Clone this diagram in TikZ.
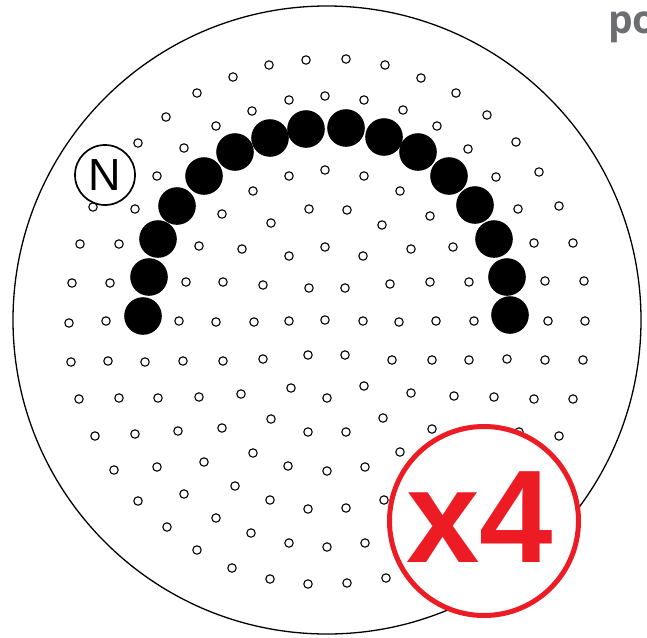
\documentclass[tikz,border=0pt]{standalone}
\usepackage{fontspec}
\setmainfont{Liberation Sans}
\newfontfamily\pofont{Open Sans}
\definecolor{xred}{HTML}{ED1C24}
\definecolor{pogray}{HTML}{6D6E71}
\tikzset{
  plate/.style={draw=black, line width=1.3pt},
  hole/.style={draw=black, line width=1.1pt, fill=white},
  bead/.style={fill=black},
  nbadge/.style={circle, draw=black, line width=1.7pt, fill=white, minimum size=60pt, inner sep=0pt, font=\fontsize{45}{45}\selectfont},
  xbadge/.style={draw=xred, line width=5pt, fill=white},
  xtext/.style={text=xred, font=\fontsize{132}{132}\selectfont\bfseries, inner sep=0pt, anchor=base},
  potext/.style={text=pogray, font=\pofont\fontsize{39}{39}\selectfont\bfseries, inner sep=0pt, anchor=base west}
}
\begin{document}
\begin{tikzpicture}[x=1pt,y=-1pt]
\useasboundingbox (0,0) rectangle (647,637);
% plate
\draw[plate] (327,320) circle[radius=314];
% small holes
\foreach \p in {
 (306,60),(346,59),(269,65),(385,65),(233,77),(421,78),(197,93),(456,93),(166,117),(487,115),(138,143),(516,142),
 (539,172),(559,206),(573,243),(584,281),(585,321),(93,207),(80,244),(72,283),(69,323),
 (325,96),(289,100),(364,100),(252,111),(403,110),(216,126),(437,126),(184,148),(468,149),(157,176),(496,177),
 (135,209),(518,209),(119,244),(534,243),(110,283),(545,281),(106,321),(548,321),
 (325,170),(289,176),(364,176),(253,191),(400,191),(222,214),(430,216),(199,246),(453,247),(186,282),(469,282),(179,321),(474,321),
 (309,209),(347,210),(271,223),(382,225),(242,249),(411,249),(223,282),(430,282),(216,322),(436,321),
 (325,247),(289,256),(363,256),(263,285),(390,284),(254,322),(399,322),
 (309,288),(345,288),(289,321),(363,321),(325,320),
 (71,362),(108,361),(145,362),(183,361),(223,361),(263,359),(308,355),(345,355),(392,360),(432,360),(469,360),(507,359),(545,360),(583,360),
 (79,399),(119,398),(158,398),(199,397),(241,394),(291,388),(327,398),(364,386),(411,393),(454,396),(494,397),(534,399),(573,399),
 (95,436),(135,434),(178,431),(222,428),(271,419),(308,432),(346,432),(383,418),(432,429),(519,432),(559,436),
 (114,470),(157,467),(204,462),(253,453),(288,466),(327,471),(365,467),(400,452),
 (138,501),(184,494),(235,486),(270,500),(308,509),(346,508),(384,500),
 (167,527),(216,518),(251,533),(289,543),(327,547),(365,543),
 (197,550),(232,568),(270,579),(308,584),(347,583),(386,578)}
  \draw[hole] \p circle[radius=4.2];
% beads
\foreach \p in {(143,316),(149,277),(158,239),(177,206),(204,176),(235,152),(270,138),(306,129),
 (346,128),(384,137),(418,152),(449,176),(475,205),(494,239),(507,277),(510,315)}
  \fill[bead] \p circle[radius=18.8];
% N badge
\node[nbadge] (north) at (105,175) {N};
% x4 badge
\draw[xbadge] (484,521) circle[radius=94.5];
\node[xtext] (times) at (480,562) {x4};
% cut-off text
\node[potext] (po) at (608,33) {po};
\end{tikzpicture}
\end{document}
